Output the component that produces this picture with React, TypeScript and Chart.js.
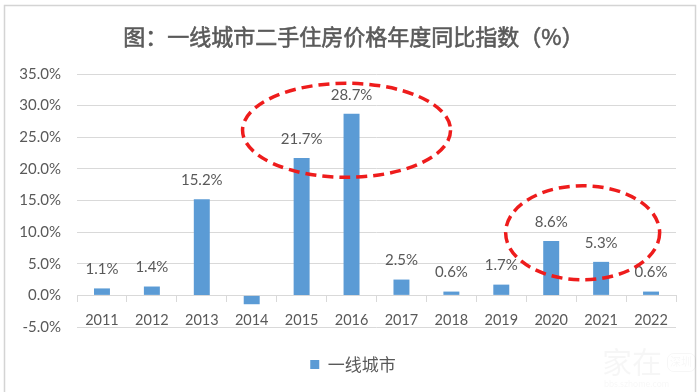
import React, { useEffect, useRef } from 'react';
import { Chart, registerables } from 'chart.js';

Chart.register(...registerables);

const years = ['2011', '2012', '2013', '2014', '2015', '2016', '2017', '2018', '2019', '2020', '2021', '2022'];
const values = [1.1, 1.4, 15.2, -1.4, 21.7, 28.7, 2.5, 0.6, 1.7, 8.6, 5.3, 0.6];
const seriesName = '一线城市';
const titleText = '图：一线城市二手住房价格年度同比指数（%）';
const yMin = -5;
const yMax = 35;
const yStep = 5;
// highlighted groups: centre as category index and value (%)
const highlightIndex = [4.9, 9.63];
const highlightValue = [26.1, 9.9];
const highlightRx = [104, 77];
const highlightRy = [47, 47];

const GRAY_TEXT = '#595959';
const GRID = '#d9d9d9';
const NUM_FONT = 'Lato';
const CJK_FONT = '"Noto Sans CJK SC"';

const framePlugin = {
  id: 'frame',
  beforeDraw(chart: any) {
    const { ctx, width, height } = chart;
    ctx.save();
    ctx.fillStyle = '#ffffff';
    ctx.fillRect(0, 0, width, height);
    ctx.strokeStyle = '#d4d4d4';
    ctx.lineWidth = 1.5;
    ctx.strokeRect(4.5, 5.5, 691, height + 10);
    ctx.restore();
  },
  afterDraw(chart: any) {
    const { ctx } = chart;
    ctx.save();
    // title
    ctx.fillStyle = '#5a5a5a';
    ctx.strokeStyle = '#5a5a5a';
    ctx.lineWidth = 0.6;
    ctx.font = `22px ${CJK_FONT}`;
    ctx.textAlign = 'center';
    ctx.textBaseline = 'middle';
    ctx.fillText(titleText, 353.5, 37);
    ctx.strokeText(titleText, 353.5, 37);
    // watermark
    ctx.fillStyle = 'rgba(0,0,0,0.035)';
    ctx.strokeStyle = 'rgba(0,0,0,0.035)';
    ctx.font = `30px ${CJK_FONT}`;
    ctx.textAlign = 'left';
    ctx.fillText('家在', 602, 362);
    ctx.font = `11px ${CJK_FONT}`;
    ctx.fillText('深圳', 670, 362);
    ctx.lineWidth = 1;
    ctx.beginPath();
    (ctx as any).roundRect ? (ctx as any).roundRect(667.5, 353.5, 28, 18, 6) : ctx.rect(667.5, 353.5, 28, 18);
    ctx.stroke();
    ctx.font = `9px ${NUM_FONT}`;
    ctx.fillText('bbs.szhome.com', 604, 384);
    ctx.restore();
  },
};

const labelPlugin = {
  id: 'barLabels',
  afterDatasetsDraw(chart: any) {
    const { ctx } = chart;
    const meta = chart.getDatasetMeta(0);
    ctx.save();
    ctx.fillStyle = GRAY_TEXT;
    ctx.font = `15px ${NUM_FONT}`;
    ctx.textAlign = 'center';
    ctx.textBaseline = 'middle';
    meta.data.forEach((bar: any, i: number) => {
      const v = values[i];
      if (v < 0) return;
      ctx.fillText(v.toFixed(1) + '%', bar.x, bar.y - 19);
    });
    ctx.restore();
  },
};

const ellipsePlugin = {
  id: 'highlightEllipses',
  afterDraw(chart: any) {
    const { ctx, scales } = chart;
    ctx.save();
    ctx.strokeStyle = '#ee1c1c';
    ctx.lineWidth = 3.5;
    ctx.setLineDash([11, 6]);
    highlightIndex.forEach((idx, i) => {
      const cx = scales.x.getPixelForValue(idx);
      const cy = scales.y.getPixelForValue(highlightValue[i]);
      ctx.beginPath();
      ctx.ellipse(cx, cy, highlightRx[i], highlightRy[i], 0, 0, Math.PI * 2);
      ctx.stroke();
    });
    ctx.restore();
  },
};

export default function App() {
  const ref = useRef<HTMLCanvasElement>(null);
  useEffect(() => {
    document.body.style.margin = '0';
    const canvas = ref.current;
    if (!canvas) return;
    const chart = new Chart(canvas, {
      type: 'bar',
      data: {
        labels: years,
        datasets: [
          {
            label: seriesName,
            data: values,
            backgroundColor: '#5B9BD5',
            borderWidth: 0,
            barPercentage: 0.64,
            categoryPercentage: 0.5,
          },
        ],
      },
      options: {
        responsive: false,
        animation: false,
        devicePixelRatio: 1,
        layout: { padding: { left: 7, right: 1, top: 74, bottom: 9 } },
        plugins: {
          title: { display: false },
          legend: {
            position: 'bottom',
            labels: {
              boxWidth: 9,
              boxHeight: 9,
              padding: 29,
              color: GRAY_TEXT,
              font: { family: CJK_FONT, size: 17 },
            },
          },
          tooltip: { enabled: false },
        },
        scales: {
          x: {
            position: { y: 0 } as any,
            grid: { drawOnChartArea: false, drawTicks: true, tickLength: 6, color: GRID, offset: true },
            border: { color: GRID },
            ticks: {
              color: GRAY_TEXT,
              font: { family: NUM_FONT, size: 14.5 },
              padding: 10,
              maxRotation: 0,
              autoSkip: false,
            },
          },
          y: {
            min: yMin,
            max: yMax,
            ticks: {
              stepSize: yStep,
              callback: (v: any) => Number(v).toFixed(1) + '%',
              padding: 16,
              color: GRAY_TEXT,
              font: { family: NUM_FONT, size: 15 },
            },
            grid: { color: GRID, drawTicks: false },
            border: { display: false },
            afterFit: (s: any) => {
              s.width = 70;
            },
          },
          yRight: {
            position: 'right',
            min: yMin,
            max: yMax,
            grid: { display: false, drawTicks: false },
            border: { display: false },
            ticks: { display: false },
            afterFit: (s: any) => {
              s.width = 23;
            },
          },
        },
      },
      plugins: [framePlugin, labelPlugin, ellipsePlugin],
    });
    return () => chart.destroy();
  }, []);
  return <canvas ref={ref} width={700} height={392} style={{ display: 'block' }} />;
}
